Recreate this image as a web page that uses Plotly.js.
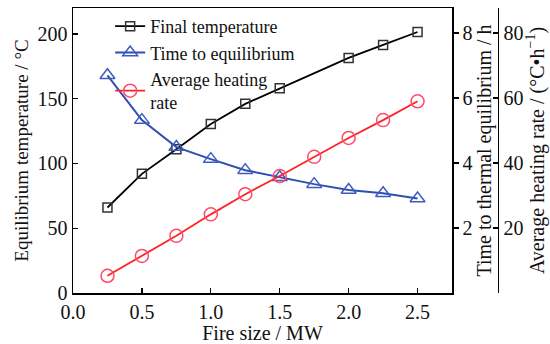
<!DOCTYPE html>
<html>
<head>
<meta charset="utf-8">
<script src="https://cdn.plot.ly/plotly-3.0.1.min.js"></script>
<style>html,body{margin:0;padding:0;background:#fff;}#chart{width:550px;height:344px;}</style>
</head>
<body>
<div id="chart"></div>
<script>
// Fire size (MW)
const fireSize = [0.25, 0.5, 0.75, 1.0, 1.25, 1.5, 1.75, 2.0, 2.25, 2.5];
// Final temperature (no marker at 1.75 MW in the source)
const fireSizeTemp = [0.25, 0.5, 0.75, 1.0, 1.25, 1.5, 2.0, 2.25, 2.5];
const finalTemperature = [66, 92, 111, 130.5, 146, 158, 181.5, 191.5, 201.5];
// Time to thermal equilibrium (h)
const timeToEquilibrium = [6.7, 5.32, 4.49, 4.12, 3.78, 3.56, 3.35, 3.17, 3.07, 2.91];
// Average heating rate (°C·h^-1)
const heatingRate = [5.3, 11.4, 17.6, 24.2, 30.4, 36.0, 41.9, 47.7, 53.2, 59.0];

const xTicks = [0, 0.5, 1.0, 1.5, 2.0, 2.5];
const y1Ticks = [0, 50, 100, 150, 200];
const y2Ticks = [2, 4, 6, 8];
const y3Ticks = [20, 40, 60, 80];

const FONT = 'Liberation Serif, Times New Roman, serif';

const traces = [
  {
    x: fireSizeTemp, y: finalTemperature, name: 'Final temperature',
    type: 'scatter', mode: 'lines+markers', yaxis: 'y',
    line: {color: '#000000', width: 1.8},
    marker: {symbol: 'square-open', size: 9, color: '#333333', line: {width: 1.5}}
  },
  {
    x: fireSize, y: timeToEquilibrium, name: 'Time to equilibrium',
    type: 'scatter', mode: 'lines+markers', yaxis: 'y2',
    line: {color: '#2f4fb0', width: 2},
    marker: {symbol: 'triangle-up-open', size: 13, color: '#3d5cc0', line: {width: 1.5}}
  },
  {
    x: fireSize, y: heatingRate, name: 'Average heating<br>rate',
    type: 'scatter', mode: 'lines+markers', yaxis: 'y3',
    line: {color: '#ff2222', width: 1.8},
    marker: {symbol: 'circle-open', size: 13, color: '#ff4a6a', line: {width: 1.5}}
  }
];

const axisCommon = {
  showline: true, linecolor: '#000', linewidth: 1.5,
  showgrid: false, zeroline: false,
  tickcolor: '#000', ticklen: 5, tickwidth: 1.2,
  tickfont: {family: FONT, size: 20, color: '#111'}
};

const layout = {
  width: 550, height: 344,
  margin: {l: 73, r: 40, t: 8, b: 51},
  paper_bgcolor: '#fff', plot_bgcolor: '#fff',
  font: {family: FONT, color: '#111'},
  showlegend: true,
  legend: {
    x: 0.085, y: 1.0, xanchor: 'left', yanchor: 'top',
    bgcolor: 'rgba(0,0,0,0)', borderwidth: 0,
    font: {family: FONT, size: 18, color: '#111'},
    itemwidth: 30, tracegroupgap: 0
  },
  xaxis: Object.assign({}, axisCommon, {
    domain: [0, 0.8673], range: [0, 2.75],
    tickvals: xTicks, tickformat: '.1f', ticks: 'inside', mirror: true,
    title: {text: 'Fire size / MW', font: {family: FONT, size: 20, color: '#111'}, standoff: 4}
  }),
  yaxis: Object.assign({}, axisCommon, {
    range: [0, 220], tickvals: y1Ticks, ticks: 'inside',
    title: {text: 'Equilibrium temperature / °C', font: {family: FONT, size: 19, color: '#111'}, standoff: 4}
  }),
  yaxis2: Object.assign({}, axisCommon, {
    overlaying: 'y', side: 'right', anchor: 'x',
    range: [0, 8.77], tickvals: y2Ticks, ticks: 'outside',
    title: {text: 'Time to thermal equilibrium / h', font: {family: FONT, size: 20, color: '#111'}, standoff: 2}
  }),
  yaxis3: Object.assign({}, axisCommon, {
    overlaying: 'y', side: 'right', anchor: 'free', position: 0.9725,
    range: [0, 87.7], tickvals: y3Ticks, ticks: 'inside',
    title: {text: 'Average heating rate / (°C•h<sup>−1</sup>)', font: {family: FONT, size: 20, color: '#111'}, standoff: 4}
  })
};

Plotly.newPlot('chart', traces, layout, {displayModeBar: false, staticPlot: true});
</script>
</body>
</html>
